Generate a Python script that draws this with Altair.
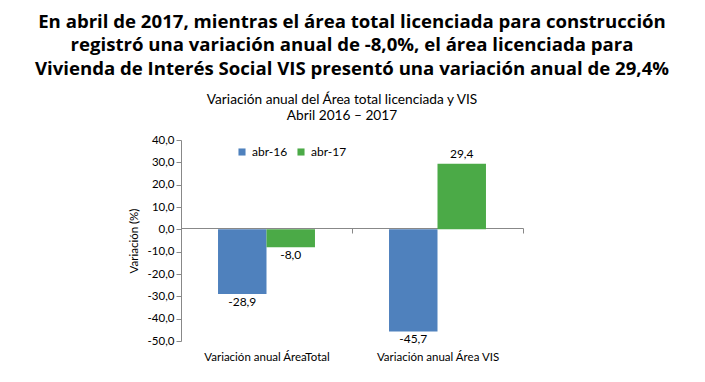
import altair as alt
import pandas as pd

categories = ["Variación anual ÁreaTotal", "Variación anual  Área VIS"]
series = ["abr-16", "abr-17"]
values_abr16 = [-28.9, -45.7]
values_abr17 = [-8.0, 29.4]
y_ticks = [40, 30, 20, 10, 0, -10, -20, -30, -40, -50]
colors = ["#4F81BD", "#4BAA47"]

rows = []
for i, c in enumerate(categories):
    rows.append({"cat": c, "serie": series[0], "val": values_abr16[i]})
    rows.append({"cat": c, "serie": series[1], "val": values_abr17[i]})
df = pd.DataFrame(rows)

FONT = "Lato"
FMT = "replace(replace(format({v}, '.1f'), '.', ','), '\u2212', '-')"

x_axis = alt.Axis(title=None, offset=-113, labelPadding=118,
                  tickOffset=85.5, labelOffset=-85.5, tickSize=5, tickColor="#888888",
                  domainColor="#888888", labelAngle=0,
                  labelFont=FONT, labelFontSize=11.5, labelColor="#000000")
x_scale = alt.Scale(paddingInner=0.433, paddingOuter=0.2165)
y_scale = alt.Scale(domain=[-50, 40], nice=False)
y_axis = alt.Axis(title="Variación (%)", values=y_ticks, grid=False,
                  labelOverlap=False,
                  labelExpr=FMT.format(v="datum.value"),
                  domainColor="#888888", tickColor="#888888", tickSize=5,
                  labelFont=FONT, labelFontSize=11.5, labelColor="#000000",
                  titleFont=FONT, titleFontSize=11.5, titleFontWeight="normal",
                  titleColor="#000000", titlePadding=8)


def xe():
    return alt.X("cat:N", sort=categories, scale=x_scale, axis=x_axis)


def ye():
    return alt.Y("val:Q", scale=y_scale, axis=y_axis)


xoff = alt.XOffset("serie:N", sort=series)

bars = alt.Chart(df).mark_bar().encode(
    x=xe(), y=ye(), y2=alt.datum(0), xOffset=xoff,
    color=alt.Color("serie:N", sort=series,
                    scale=alt.Scale(domain=series, range=colors),
                    legend=alt.Legend(title=None, orient="none", legendX=55, legendY=6,
                                      direction="horizontal", symbolType="square",
                                      symbolSize=50, symbolStrokeWidth=0, columnPadding=7,
                                      labelFont=FONT, labelFontSize=12, labelColor="#000000")),
)

label_expr = FMT.format(v="datum.val")
neg = alt.Chart(df).transform_filter("datum.val < 0").transform_calculate(
    lbl=label_expr).mark_text(baseline="top", dy=3, font=FONT, fontSize=12, color="#000000").encode(
    x=xe(), y=ye(), xOffset=xoff, text="lbl:N")
pos = alt.Chart(df).transform_filter("datum.val >= 0").transform_calculate(
    lbl=label_expr).mark_text(baseline="bottom", dy=-3, font=FONT, fontSize=12, color="#000000").encode(
    x=xe(), y=ye(), xOffset=xoff, text="lbl:N")

pad = "\u2800" * 2
chart = alt.layer(bars, neg, pos).properties(
    width=342, height=201,
    autosize=alt.AutoSizeParams(type="none"),
    padding={"left": 173, "top": 132, "right": 174, "bottom": 33},
    title=alt.Title(
        text=["En abril de 2017, mientras el área total licenciada para construcción",
              "registró una variación anual de -8,0%, el área licenciada para",
              "Vivienda de Interés Social VIS presentó una variación anual de 29,4%"],
        subtitle=["Variación anual del Área total licenciada y VIS" + pad,
                  "Abril 2016 – 2017" + pad],
        anchor="middle", font="Open Sans", fontSize=18.6, fontWeight="bold",
        lineHeight=23.3, color="#000000",
        subtitleFont=FONT, subtitleFontSize=13.7, subtitleLineHeight=16,
        subtitleColor="#000000", subtitlePadding=15, offset=11),
).configure_view(stroke=None)

chart.save("out.html", embed_options={"renderer": "svg", "actions": False})
